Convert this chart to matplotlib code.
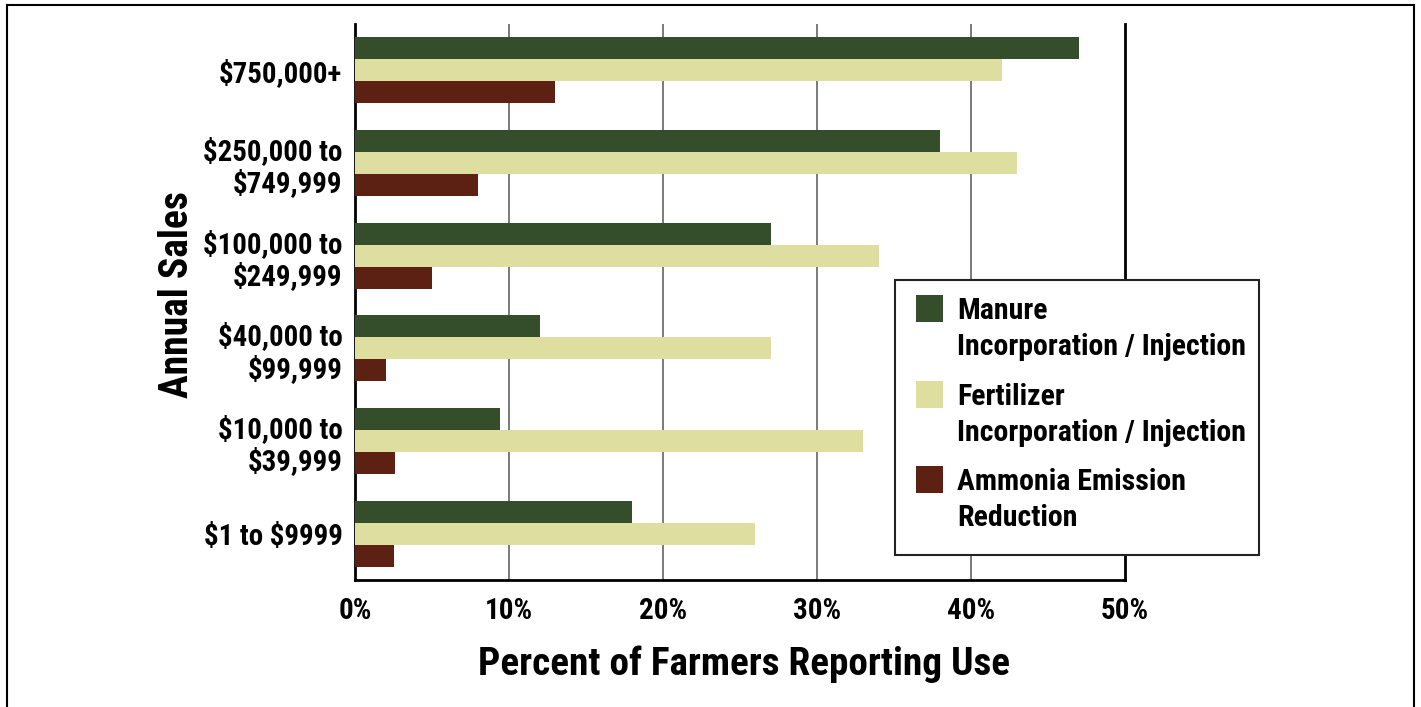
import matplotlib
matplotlib.use("Agg")
import matplotlib.pyplot as plt
from matplotlib.patches import Rectangle
from matplotlib.lines import Line2D
import numpy as np

plt.rcParams['text.parse_math'] = False
plt.rcParams['font.family'] = ['Liberation Sans Narrow', 'Roboto Condensed',
                               'Noto Sans', 'DejaVu Sans']
plt.rcParams['font.stretch'] = 'condensed'
plt.rcParams['font.weight'] = 'bold'

# Sales classes, top to bottom
categories = ["$750,000+", "$250,000 to\n$749,999", "$100,000 to\n$249,999",
              "$40,000 to\n$99,999", "$10,000 to\n$39,999", "$1 to $9999"]

manure = [47, 38, 27, 12, 9.4, 18]
fertilizer = [42, 43, 34, 27, 33, 26]
ammonia = [13, 8, 5, 2, 2.6, 2.5]

series_names = ["Manure\nIncorporation / Injection",
                "Fertilizer\nIncorporation / Injection",
                "Ammonia Emission\nReduction"]
series_colors = ["#344E2B", "#DDDEA0", "#5C2112"]

xticks = [0, 10, 20, 30, 40, 50]
xtick_labels = ["0%", "10%", "20%", "30%", "40%", "50%"]

W, H = 1421, 707
fig = plt.figure(figsize=(W / 100, H / 100), dpi=100)


def fx(px):
    return px / W


def fy(py):
    return 1 - py / H


ax = fig.add_axes([fx(355), fy(580), fx(1125) - fx(355), fy(24) - fy(580)])

y = np.arange(len(categories))
bh = 0.237
for k, (vals, col) in enumerate(zip([manure, fertilizer, ammonia], series_colors)):
    ax.barh(y + (k - 1) * bh, vals, height=bh, color=col, edgecolor='none', zorder=3)

ax.set_xlim(0, 50)
ax.set_ylim(5.5, -0.5)
ax.set_xticks(xticks)
ax.set_xticklabels(xtick_labels, fontsize=21, fontweight='bold')
ax.set_yticks(y)
ax.set_yticklabels(categories, fontsize=20.8, fontweight='bold', linespacing=1.15)
for lab in ax.get_yticklabels():
    lab.set_multialignment('right')
ax.tick_params(axis='both', length=0)
ax.tick_params(axis='x', pad=12)
ax.tick_params(axis='y', pad=9)

for v in xticks[1:-1]:
    ax.axvline(v, color='#6f6f6f', lw=1.3, zorder=1)

for side in ['left', 'bottom', 'right']:
    ax.spines[side].set_color('black')
    ax.spines[side].set_linewidth(2)
ax.spines['top'].set_visible(False)

ax.set_xlabel("Percent of Farmers Reporting Use", fontsize=28.3, fontweight='bold')
ax.xaxis.set_label_coords(0.505, -0.117)
ax.set_ylabel("Annual Sales", fontsize=28.5, fontweight='bold')
ax.yaxis.set_label_coords(-0.207, 0.513)

# Legend box
fig.add_artist(Rectangle((fx(895), fy(555)), fx(1259) - fx(895), fy(280) - fy(555),
                         transform=fig.transFigure, facecolor='white',
                         edgecolor='#222222', lw=1.5, zorder=5))
patch_tops = [295, 381, 466]
for name, col, top in zip(series_names, series_colors, patch_tops):
    fig.add_artist(Rectangle((fx(916), fy(top + 27)), fx(943) - fx(916), fy(top) - fy(top + 27),
                             transform=fig.transFigure, facecolor=col,
                             edgecolor='none', zorder=6))
    fig.text(fx(957), fy(top + 2), name, fontsize=21.5, fontweight='bold',
             va='top', ha='left', linespacing=1.35, zorder=7)

# Outer frame
for xs, ys in [([7, 7], [707, 5]), ([7, 1414], [5, 5]), ([1414, 1414], [5, 707])]:
    fig.add_artist(Line2D([fx(v) for v in xs], [fy(v) for v in ys],
                          transform=fig.transFigure, color='black', lw=1.5))

fig.savefig("out.png", dpi=100, facecolor='white')
